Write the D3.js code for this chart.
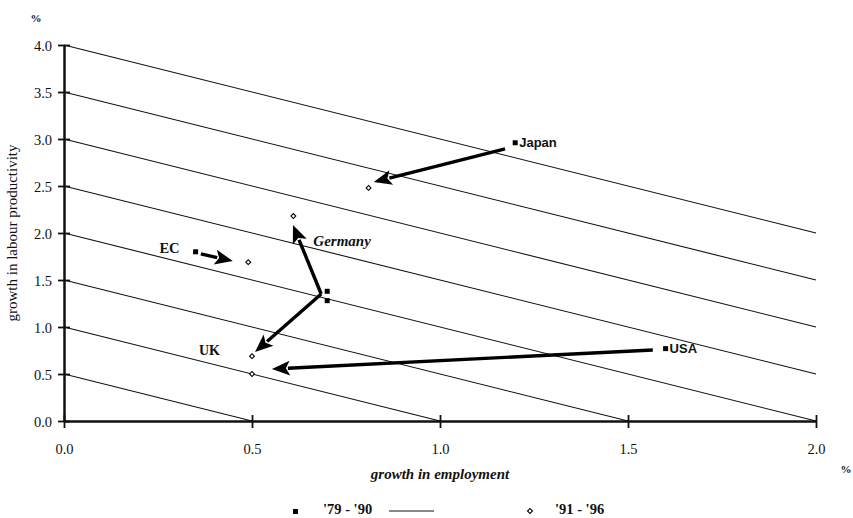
<!DOCTYPE html>
<html lang="en">
  <head>
    <meta charset="UTF-8" />
    <title>Employment and productivity growth</title>
    <script src="https://cdn.jsdelivr.net/npm/d3@7"></script>
    <style>
      body { margin: 0; background: #fff; }
      text { fill: #111; }
    </style>
  </head>
  <body>
    <div id="chart"></div>
    <script>
    // values (% per year)
    var countries = ["Japan", "Germany", "UK", "EC", "USA"];
    var emp7990  = [1.20, 0.70, 0.70, 0.35, 1.60];
    var prod7990 = [2.96, 1.38, 1.28, 1.80, 0.77];
    var emp9196  = [0.81, 0.61, 0.50, 0.49, 0.50];
    var prod9196 = [2.48, 2.18, 0.69, 1.69, 0.50];
    // arrows drawn between the periods (tail and head, in data units)
    var arrowFromX = [1.173, 0.684, 0.684, 0.364, 1.566];
    var arrowFromY = [2.894, 1.351, 1.351, 1.777, 0.755];
    var arrowToX   = [0.824, 0.609, 0.508, 0.449, 0.553];
    var arrowToY   = [2.543, 2.085, 0.734, 1.702, 0.553];
    // iso-output lines: employment + productivity = const
    var isoLevels = [0.5, 1.0, 1.5, 2.0, 2.5, 3.0, 3.5, 4.0];
    var xTicks = [0, 0.5, 1.0, 1.5, 2.0];
    var yTicks = [0, 0.5, 1.0, 1.5, 2.0, 2.5, 3.0, 3.5, 4.0];

    var width = 853, height = 518;
    var serif = "'Liberation Serif', 'DejaVu Serif', serif";
    var sans = "'Liberation Sans', Arial, sans-serif";

    var svg = d3.select("#chart").append("svg")
                .attr("width", width)
                .attr("height", height);

    var x = d3.scaleLinear().domain([0, 2]).range([64, 816]);
    var y = d3.scaleLinear().domain([0, 4]).range([421, 45]);

    // diagonal lines, clipped to the plot box
    svg.selectAll("line.iso")
       .data(isoLevels)
       .enter()
       .append("line")
       .attr("class", "iso")
       .attr("x1", x(0))
       .attr("y1", function(c){ return y(Math.min(c, 4)); })
       .attr("x2", function(c){ return x(Math.min(c, 2)); })
       .attr("y2", function(c){ return y(Math.max(c - 2, 0)); })
       .attr("stroke", "#111")
       .attr("stroke-width", 1.1);

    // axes
    var xAxis = d3.axisBottom(x).tickValues(xTicks).tickFormat(d3.format(".1f")).tickSize(0);
    var yAxis = d3.axisLeft(y).tickValues(yTicks).tickFormat(d3.format(".1f")).tickSize(0);

    var gx = svg.append("g").attr("transform", "translate(0," + y(0) + ")").call(xAxis);
    var gy = svg.append("g").attr("transform", "translate(" + x(0) + ",0)").call(yAxis);

    [gx, gy].forEach(function(g){
      g.select(".domain").attr("stroke", "#111").attr("stroke-width", 2.5);
      g.selectAll("text").style("font-family", serif).style("font-size", "14.5px").attr("fill", "#111");
    });
    gx.selectAll(".tick text").attr("dy", "0").attr("y", 33);
    gy.selectAll(".tick text").attr("x", -12).attr("dy", "0.35em");
    // ticks crossing the axis line
    gx.selectAll(".tick").append("line")
      .attr("y1", -6).attr("y2", 7)
      .attr("stroke", "#111").attr("stroke-width", 1.8);
    gy.selectAll(".tick").append("line")
      .attr("x1", -6).attr("x2", 6)
      .attr("stroke", "#111").attr("stroke-width", 1.8);

    // axis titles and % marks
    svg.append("text")
       .attr("transform", "translate(17," + 233 + ") rotate(-90)")
       .attr("text-anchor", "middle")
       .style("font-family", serif).style("font-size", "15px")
       .text("growth in labour productivity");
    svg.append("text")
       .attr("x", x(1.0)).attr("y", 479)
       .attr("text-anchor", "middle")
       .style("font-family", serif).style("font-size", "15px")
       .style("font-style", "italic").style("font-weight", "bold")
       .text("growth in employment");
    svg.append("text")
       .attr("x", 36).attr("y", 22)
       .attr("text-anchor", "middle")
       .style("font-family", serif).style("font-size", "11px").style("font-weight", "bold")
       .text("%");
    svg.append("text")
       .attr("x", 846).attr("y", 473)
       .attr("text-anchor", "middle")
       .style("font-family", serif).style("font-size", "11px").style("font-weight", "bold")
       .text("%");

    // arrows
    var arrows = countries.map(function(c, i){
      return { x1: x(arrowFromX[i]), y1: y(arrowFromY[i]), x2: x(arrowToX[i]), y2: y(arrowToY[i]) };
    });
    var headLen = 18, headHalf = 7.5;
    svg.selectAll("line.arrow")
       .data(arrows)
       .enter()
       .append("line")
       .attr("class", "arrow")
       .attr("x1", function(d){ return d.x1; })
       .attr("y1", function(d){ return d.y1; })
       .attr("x2", function(d){
         var dx = d.x2 - d.x1, dy = d.y2 - d.y1, l = Math.sqrt(dx*dx + dy*dy);
         return d.x2 - dx / l * (headLen - 2);
       })
       .attr("y2", function(d){
         var dx = d.x2 - d.x1, dy = d.y2 - d.y1, l = Math.sqrt(dx*dx + dy*dy);
         return d.y2 - dy / l * (headLen - 2);
       })
       .attr("stroke", "#000")
       .attr("stroke-width", 3.4);
    svg.selectAll("path.head")
       .data(arrows)
       .enter()
       .append("path")
       .attr("class", "head")
       .attr("d", function(d){
         var dx = d.x2 - d.x1, dy = d.y2 - d.y1, l = Math.sqrt(dx*dx + dy*dy);
         var ux = dx / l, uy = dy / l;
         var bx = d.x2 - ux * headLen, by = d.y2 - uy * headLen;
         return "M" + d.x2 + "," + d.y2 +
                "L" + (bx - uy * headHalf) + "," + (by + ux * headHalf) +
                "L" + (bx + ux * 4) + "," + (by + uy * 4) +
                "L" + (bx + uy * headHalf) + "," + (by - ux * headHalf) + "Z";
       })
       .attr("fill", "#000");

    // '79-'90 squares
    svg.selectAll("rect.p1")
       .data(countries)
       .enter()
       .append("rect")
       .attr("class", "p1")
       .attr("x", function(d, i){ return x(emp7990[i]) - 2.5; })
       .attr("y", function(d, i){ return y(prod7990[i]) - 2.5; })
       .attr("width", 5).attr("height", 5)
       .attr("fill", "#000");

    // '91-'96 diamonds (small square turned 45 degrees)
    var diamond = d3.symbol().type(d3.symbolSquare).size(12);
    svg.selectAll("path.p2")
       .data(countries)
       .enter()
       .append("path")
       .attr("class", "p2")
       .attr("d", diamond)
       .attr("transform", function(d, i){ return "translate(" + x(emp9196[i]) + "," + y(prod9196[i]) + ") rotate(45)"; })
       .attr("fill", "#fff")
       .attr("stroke", "#000")
       .attr("stroke-width", 1.1);

    // country labels
    var labelStyle = {
      Japan:   { dx: 4,   dy: 4,  anchor: "start", font: sans,  italic: false, size: 13,   from: "p1" },
      USA:     { dx: 4,   dy: 4,  anchor: "start", font: sans,  italic: false, size: 13,   from: "p1" },
      EC:      { dx: -16, dy: 1,  anchor: "end",   font: serif, italic: false, size: 14.5, from: "p1" },
      UK:      { dx: -32, dy: -1, anchor: "end",   font: serif, italic: false, size: 14,   from: "p2" },
      Germany: { dx: 20,  dy: 30, anchor: "start", font: serif, italic: true,  size: 15,   from: "p2" }
    };
    svg.selectAll("text.country")
       .data(countries)
       .enter()
       .append("text")
       .attr("class", "country")
       .attr("x", function(d, i){
         var s = labelStyle[d];
         return (s.from == "p1" ? x(emp7990[i]) : x(emp9196[i])) + s.dx;
       })
       .attr("y", function(d, i){
         var s = labelStyle[d];
         return (s.from == "p1" ? y(prod7990[i]) : y(prod9196[i])) + s.dy;
       })
       .attr("text-anchor", function(d){ return labelStyle[d].anchor; })
       .style("font-family", function(d){ return labelStyle[d].font; })
       .style("font-style", function(d){ return labelStyle[d].italic ? "italic" : "normal"; })
       .style("font-weight", "bold")
       .style("font-size", function(d){ return labelStyle[d].size + "px"; })
       .text(function(d){ return d; });

    // legend
    var legend = svg.append("g");
    legend.append("rect")
          .attr("x", 293).attr("y", 509)
          .attr("width", 5).attr("height", 5)
          .attr("fill", "#000");
    legend.append("text")
          .attr("x", 323).attr("y", 514)
          .style("font-family", serif).style("font-size", "14.5px").style("font-weight", "bold")
          .text("'79 - '90");
    legend.append("line")
          .attr("x1", 389).attr("x2", 434)
          .attr("y1", 511).attr("y2", 511)
          .attr("stroke", "#111").attr("stroke-width", 1);
    legend.append("path")
          .attr("d", diamond)
          .attr("transform", "translate(530,511) rotate(45)")
          .attr("fill", "#fff").attr("stroke", "#000").attr("stroke-width", 1.1);
    legend.append("text")
          .attr("x", 555).attr("y", 514)
          .style("font-family", serif).style("font-size", "14.5px").style("font-weight", "bold")
          .text("'91 - '96");
    </script>
  </body>
</html>
